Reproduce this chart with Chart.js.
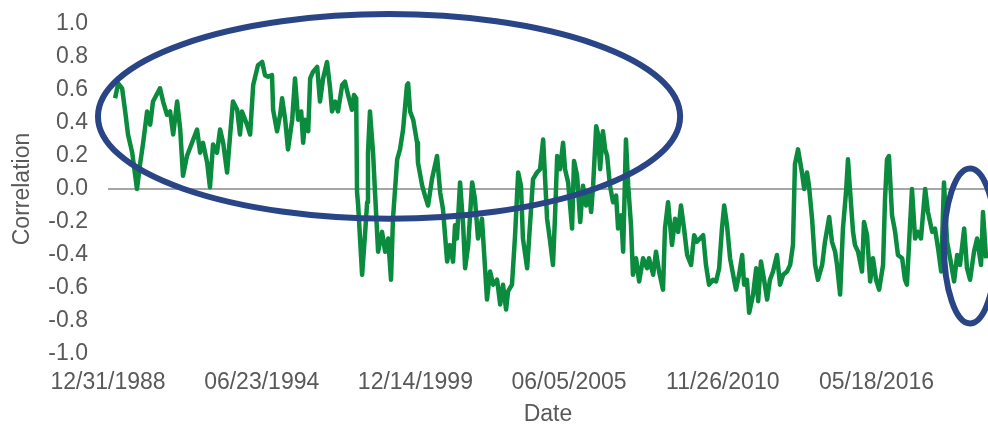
<!DOCTYPE html>
<html>
<head>
<meta charset="utf-8">
<script src="https://cdn.jsdelivr.net/npm/chart.js@4.4.1/dist/chart.umd.min.js"></script>
<style>
    html, body { margin: 0; padding: 0; background: #ffffff; }
    #box { width: 988px; height: 428px; }
</style>
</head>
<body>
<div id="box"><canvas id="chart-corr"></canvas></div>
<script>
// datas em ano decimal e correlacao
var anos = [
    1989.25,1989.36,1989.50,1989.61,1989.71,1989.86,1989.89,1990.03,1990.14,1990.25,
    1990.39,1990.50,1990.60,1990.85,1990.96,1991.10,1991.21,1991.32,1991.46,1991.57,
    1991.67,1991.81,1991.99,1992.17,1992.28,1992.38,1992.53,1992.63,1992.74,1992.88,
    1992.99,1993.10,1993.24,1993.35,1993.45,1993.60,1993.70,1993.77,1993.95,1994.06,
    1994.17,1994.34,1994.49,1994.59,1994.70,1994.84,1994.88,1995.02,1995.13,1995.20,
    1995.31,1995.41,1995.56,1995.66,1995.77,1995.88,1995.95,1996.02,1996.13,1996.20,
    1996.30,1996.45,1996.55,1996.66,1996.80,1996.91,1996.98,1997.09,1997.19,1997.34,
    1997.44,1997.55,1997.69,1997.76,1997.84,1997.87,1997.91,1998.05,1998.16,1998.23,
    1998.26,1998.33,1998.44,1998.51,1998.62,1998.76,1998.87,1998.98,1999.08,1999.15,
    1999.30,1999.40,1999.51,1999.65,1999.69,1999.76,1999.87,2000.01,2000.04,2000.19,
    2000.29,2000.40,2000.54,2000.72,2000.83,2000.93,2001.08,2001.18,2001.29,2001.36,
    2001.43,2001.54,2001.65,2001.72,2001.83,2001.97,2002.07,2002.18,2002.32,2002.43,
    2002.50,2002.61,2002.72,2002.86,2002.97,2003.07,2003.18,2003.25,2003.39,2003.50,
    2003.61,2003.71,2003.78,2003.93,2004.03,2004.14,2004.28,2004.39,2004.50,2004.64,
    2004.75,2004.85,2004.92,2005.00,2005.10,2005.21,2005.28,2005.39,2005.53,2005.60,
    2005.71,2005.82,2005.92,2006.03,2006.14,2006.21,2006.28,2006.39,2006.46,2006.53,
    2006.63,2006.71,2006.78,2006.88,2006.99,2007.10,2007.17,2007.28,2007.35,2007.45,
    2007.53,2007.63,2007.70,2007.81,2007.92,2008.06,2008.20,2008.27,2008.42,2008.52,
    2008.63,2008.77,2008.84,2008.95,2009.09,2009.20,2009.31,2009.41,2009.52,2009.63,
    2009.77,2009.88,2009.98,2010.09,2010.20,2010.30,2010.41,2010.55,2010.66,2010.77,
    2010.87,2010.95,2011.05,2011.16,2011.27,2011.37,2011.48,2011.59,2011.66,2011.76,
    2011.84,2011.98,2012.09,2012.16,2012.26,2012.37,2012.48,2012.58,2012.69,2012.83,
    2012.94,2013.05,2013.19,2013.30,2013.40,2013.47,2013.58,2013.72,2013.80,2013.90,
    2013.97,2014.08,2014.19,2014.29,2014.44,2014.54,2014.69,2014.79,2014.90,2014.97,
    2015.08,2015.18,2015.29,2015.36,2015.43,2015.54,2015.61,2015.72,2015.86,2015.93,
    2016.04,2016.15,2016.25,2016.36,2016.47,2016.61,2016.68,2016.75,2016.82,2016.93,
    2017.04,2017.14,2017.29,2017.39,2017.46,2017.57,2017.64,2017.75,2017.86,2017.96,
    2018.11,2018.21,2018.36,2018.46,2018.57,2018.68,2018.78,2018.89,2019.00,2019.14,
    2019.25,2019.35,2019.50,2019.60,2019.71,2019.85,2019.96,2020.10,2020.17,2020.28
];

var correlacao = [
    0.55,0.64,0.61,0.47,0.33,0.22,0.18,0.00,0.15,0.28,
    0.47,0.39,0.53,0.61,0.53,0.45,0.47,0.33,0.53,0.36,
    0.08,0.20,0.28,0.36,0.22,0.28,0.16,0.01,0.27,0.22,
    0.36,0.28,0.10,0.33,0.53,0.48,0.33,0.47,0.39,0.33,
    0.63,0.75,0.77,0.69,0.68,0.69,0.48,0.35,0.45,0.55,
    0.42,0.24,0.42,0.67,0.42,0.47,0.28,0.42,0.35,0.67,
    0.71,0.74,0.53,0.67,0.77,0.61,0.47,0.53,0.47,0.63,
    0.65,0.57,0.48,0.57,0.55,-0.02,-0.10,-0.52,-0.26,-0.08,
    0.22,0.47,0.22,-0.02,-0.38,-0.26,-0.38,-0.30,-0.55,-0.18,
    0.18,0.24,0.36,0.63,0.64,0.47,0.42,0.28,0.16,0.02,
    -0.04,-0.10,0.06,0.20,-0.02,-0.12,-0.44,-0.34,-0.44,-0.22,
    -0.30,0.04,-0.22,-0.48,-0.34,0.04,-0.06,-0.30,-0.18,-0.48,
    -0.67,-0.50,-0.58,-0.55,-0.70,-0.58,-0.73,-0.62,-0.58,-0.28,
    0.10,0.02,-0.30,-0.48,-0.22,0.06,0.10,0.12,0.30,-0.18,
    -0.32,-0.46,-0.18,0.20,0.12,0.28,0.12,0.04,-0.24,0.17,
    0.08,-0.20,0.02,-0.10,-0.02,-0.14,0.02,0.38,0.33,0.12,
    0.35,0.24,0.20,0.02,-0.08,-0.04,-0.24,-0.16,-0.38,0.30,
    0.02,-0.22,-0.52,-0.42,-0.56,-0.42,-0.48,-0.42,-0.52,-0.38,
    -0.50,-0.61,-0.24,-0.08,-0.34,-0.18,-0.26,-0.10,-0.24,-0.40,
    -0.46,-0.28,-0.32,-0.30,-0.28,-0.46,-0.58,-0.55,-0.56,-0.48,
    -0.24,-0.10,-0.22,-0.42,-0.52,-0.61,-0.52,-0.40,-0.58,-0.55,
    -0.75,-0.64,-0.48,-0.68,-0.44,-0.55,-0.67,-0.55,-0.50,-0.40,
    -0.58,-0.52,-0.50,-0.46,-0.34,0.15,0.24,0.10,0.00,0.10,
    0.02,-0.18,-0.46,-0.55,-0.46,-0.32,-0.17,-0.32,-0.38,-0.46,
    -0.64,-0.24,-0.02,0.18,0.00,-0.26,-0.34,-0.38,-0.50,-0.20,
    -0.28,-0.56,-0.42,-0.55,-0.61,-0.46,-0.06,0.18,0.20,-0.16,
    -0.26,-0.40,-0.42,-0.55,-0.58,-0.22,0.00,-0.30,-0.26,-0.30,
    0.00,-0.14,-0.26,-0.24,-0.36,-0.50,0.04,-0.32,-0.42,-0.56,
    -0.40,-0.46,-0.24,-0.48,-0.55,-0.38,-0.30,-0.46,-0.14,-0.42
];

// eixo x em dias desde 12/31/1988
var tickDias = [0, 2000, 4000, 6000, 8000, 10000];
var tickLabels = ['12/31/1988', '06/23/1994', '12/14/1999', '06/05/2005', '11/26/2010', '05/18/2016'];
var ultimoDia = 11451;

// elipses de destaque (centro em ano/valor, raios em anos/valor)
var elipses = [
    { ano: 1999.01, valor: 0.44, raioAnos: 10.37, raioValor: 0.62 },
    { ano: 2019.71, valor: -0.345, raioAnos: 0.93, raioValor: 0.47 }
];

function diaDoAno(ano) {
    return (ano - 1989) * 365.25 + 1;
}

var pontos = [];
for (let i = 0; i < anos.length; i++) {
    pontos.push({ x: diaDoAno(anos[i]), y: correlacao[i] });
}

var corTexto = '#595959';
var fonte = { family: 'Liberation Sans, Arial, sans-serif', size: 23 };

var elipsesPlugin = {
    id: 'elipses',
    afterDatasetsDraw: function(chart) {
        var sx = chart.scales.x;
        var sy = chart.scales.y;
        var ctx = chart.ctx;
        ctx.save();
        ctx.strokeStyle = '#2a4585';
        ctx.lineWidth = 6;
        elipses.forEach(function(e) {
            var cx = sx.getPixelForValue(diaDoAno(e.ano));
            var rx = sx.getPixelForValue(diaDoAno(e.ano + e.raioAnos)) - cx;
            var cy = sy.getPixelForValue(e.valor);
            var ry = sy.getPixelForValue(e.valor - e.raioValor) - cy;
            ctx.beginPath();
            ctx.ellipse(cx, cy, rx, ry, 0, 0, 2 * Math.PI);
            ctx.stroke();
        });
        ctx.restore();
    }
};

var ctx = document.getElementById('chart-corr').getContext('2d');
new Chart(ctx, {
    type: 'line',
    data: {
        datasets: [{
            label: 'Correlation',
            data: pontos,
            borderColor: '#0a8b3d',
            borderWidth: 4.5,
            borderJoinStyle: 'round',
            pointRadius: 0,
            tension: 0,
            fill: false
        }]
    },
    plugins: [elipsesPlugin],
    options: {
        responsive: true,
        maintainAspectRatio: false,
        animation: false,
        layout: { padding: { top: 24, right: 0, bottom: 0, left: 0 } },
        plugins: {
            legend: { display: false },
            tooltip: { enabled: false }
        },
        scales: {
            x: {
                type: 'linear',
                min: 0,
                max: ultimoDia,
                afterBuildTicks: function(scale) {
                    scale.ticks = tickDias.map(function(v) { return { value: v }; });
                },
                afterFit: function(scale) { scale.height = 74; },
                grid: { display: false, drawTicks: false },
                border: { display: false },
                ticks: {
                    autoSkip: false,
                    maxRotation: 0,
                    padding: 15,
                    color: corTexto,
                    font: fonte,
                    callback: function(value) {
                        return tickLabels[tickDias.indexOf(value)];
                    }
                },
                title: {
                    display: true,
                    text: 'Date',
                    color: corTexto,
                    font: fonte,
                    padding: { top: 0, bottom: 0 }
                }
            },
            y: {
                min: -1,
                max: 1,
                afterFit: function(scale) {
                    scale.width = 108;
                    scale.paddingTop = 0;
                    scale.paddingBottom = 0;
                },
                grid: {
                    drawTicks: false,
                    lineWidth: 2,
                    color: function(c) {
                        return Math.abs(c.tick.value) < 1e-9 ? '#a6a6a6' : 'rgba(0,0,0,0)';
                    }
                },
                border: { display: false },
                ticks: {
                    stepSize: 0.2,
                    padding: 20,
                    color: corTexto,
                    font: fonte,
                    callback: function(value) {
                        return Math.abs(value) < 1e-9 ? '0.0' : value.toFixed(1);
                    }
                },
                title: {
                    display: true,
                    text: 'Correlation',
                    color: corTexto,
                    font: fonte,
                    padding: { top: 9, bottom: 0 }
                }
            }
        }
    }
});
</script>
</body>
</html>
